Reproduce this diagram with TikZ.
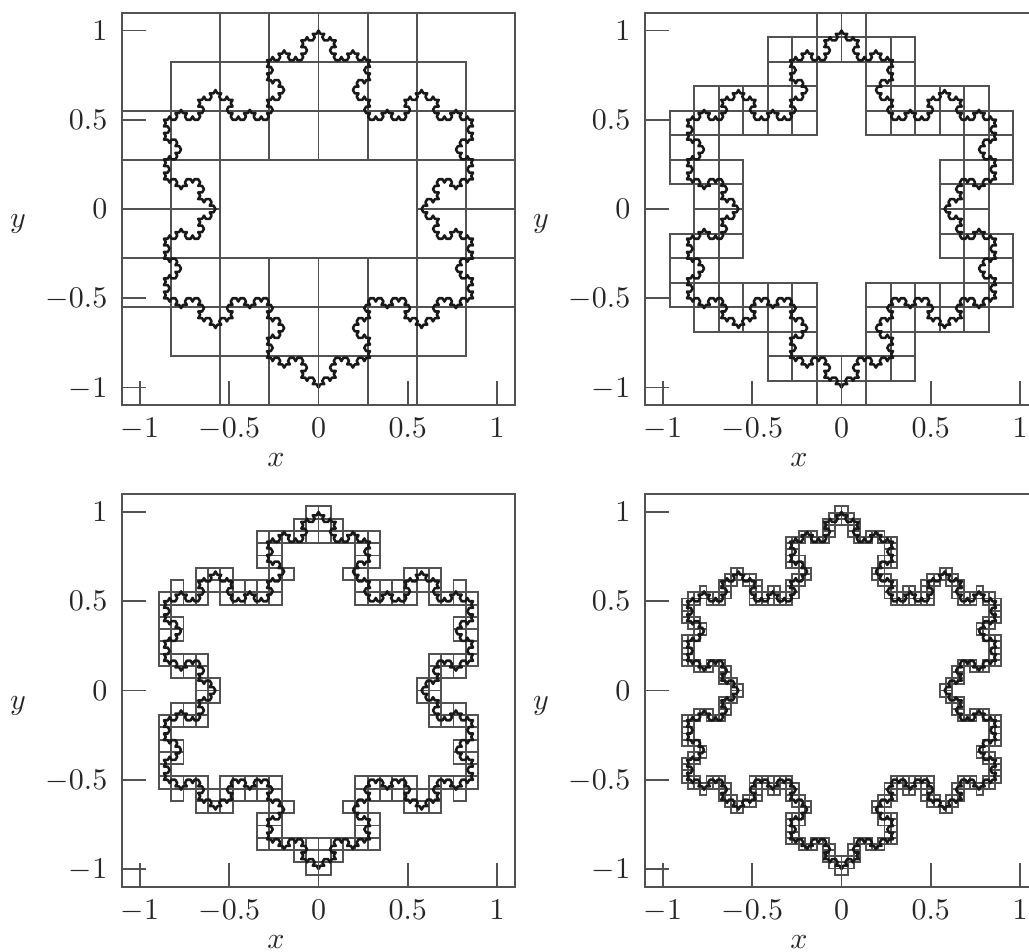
\documentclass[tikz,border=0pt]{standalone}
\usepackage{amsmath,amssymb}

% coordinates are in sp, one unit of the axes is 100pt
\newcount\cellx
\newcount\celly
\newcommand\kochseg[5]{\ifnum#5=0 \atpoint{#1}{#2}\else\begingroup
\edef\ax{\the\numexpr(2*#1+#3)/3}\edef\ay{\the\numexpr(2*#2+#4)/3}%
\edef\bx{\the\numexpr(#1+2*#3)/3}\edef\by{\the\numexpr(#2+2*#4)/3}%
\edef\cx{\the\numexpr(#1+#3)/2+(#2-#4)*288675/1000000}%
\edef\cy{\the\numexpr(#2+#4)/2+(#3-#1)*288675/1000000}%
\edef\nd{\the\numexpr#5-1}%
\edef\next{\noexpand\kochseg{#1}{#2}{\ax}{\ay}{\nd}\noexpand\kochseg{\ax}{\ay}{\cx}{\cy}{\nd}%
\noexpand\kochseg{\cx}{\cy}{\bx}{\by}{\nd}\noexpand\kochseg{\bx}{\by}{#3}{#4}{\nd}}\next
\endgroup\fi}
\newcommand\snowflake[1]{\kochseg{0}{6553600}{5675581}{-3276800}{#1}%
\kochseg{5675581}{-3276800}{-5675581}{-3276800}{#1}%
\kochseg{-5675581}{-3276800}{0}{6553600}{#1}}

\newcommand\addcell[3]{\edef\hh{\the\numexpr14417920/#1}%
\cellx=\numexpr#2+7208960\relax\divide\cellx by \hh\relax
\celly=\numexpr#3+7208960\relax\divide\celly by \hh\relax
\ifcsname cell#1-\the\cellx-\the\celly\endcsname\else
\global\expandafter\let\csname cell#1-\the\cellx-\the\celly\endcsname\empty
\expandafter\xdef\csname boxes#1\endcsname{\csname boxes#1\endcsname
(\the\dimexpr\numexpr\cellx*\hh-7208960\relax sp\relax,\the\dimexpr\numexpr\celly*\hh-7208960\relax sp\relax)
rectangle +(\the\dimexpr\hh sp\relax,\the\dimexpr\hh sp\relax) }\fi}

% the curve itself
\gdef\kochpath{}
\def\atpoint#1#2{\xdef\kochpath{\kochpath -- (\the\dimexpr#1sp\relax,\the\dimexpr#2sp\relax)}}
\snowflake{4}
% the boxes that the curve passes through
\foreach \n in {8,16,32,64}{\expandafter\gdef\csname boxes\n\endcsname{}}
\def\atpoint#1#2{\addcell{8}{#1}{#2}\addcell{16}{#1}{#2}\addcell{32}{#1}{#2}\addcell{64}{#1}{#2}}
\snowflake{6}

\begin{document}
\begin{tikzpicture}[x=0.33333pt,y=-0.33333pt]
\tikzstyle{boxline}=[draw=black!68, line width=0.64pt]
\tikzstyle{curveline}=[draw=black!90, line width=0.85pt, line join=round]
\tikzstyle{frameline}=[draw=black!68, line width=0.64pt]
\tikzstyle{ticklabel}=[inner sep=0pt, text height=6.44pt, text depth=0pt, text=black!85]
\useasboundingbox (0,0) rectangle (1029,951);
\foreach \n/\cx/\cy in {8/318.5/209,16/841.5/209,32/318.5/690.5,64/841.5/690.5}{
\begin{scope}[shift={(\cx,\cy)},scale=0.595]
\expandafter\let\expandafter\boxpath\csname boxes\n\endcsname
\path[boxline] \boxpath;
\path[curveline] (0pt,100pt) \kochpath -- cycle;
\path[frameline] (-110pt,-110pt) rectangle (110pt,110pt);
\foreach \t/\lab [count=\i] in {100/1,50/0.5,0/0,-50/-0.5,-100/-1}{
\path[boxline] (-110pt,\t pt) -- ++(13.4pt,0pt);
\path[boxline] (\t pt,-110pt) -- ++(0pt,13.4pt);
\node[ticklabel, anchor=east] (yt\n\i) at (-118pt,\t pt) {$\lab$};
\node[ticklabel, anchor=base] (xt\n\i) at (\t pt,-128pt) {$\lab$};
}
\node[anchor=base, inner sep=0pt, text=black!85] (xl\n) at (-23.8pt,-144.5pt) {$x$};
\node[inner sep=0pt, text=black!85] (yl\n) at (-168.3pt,-8.4pt) {$y$};
\end{scope}
}
\end{tikzpicture}
\end{document}
